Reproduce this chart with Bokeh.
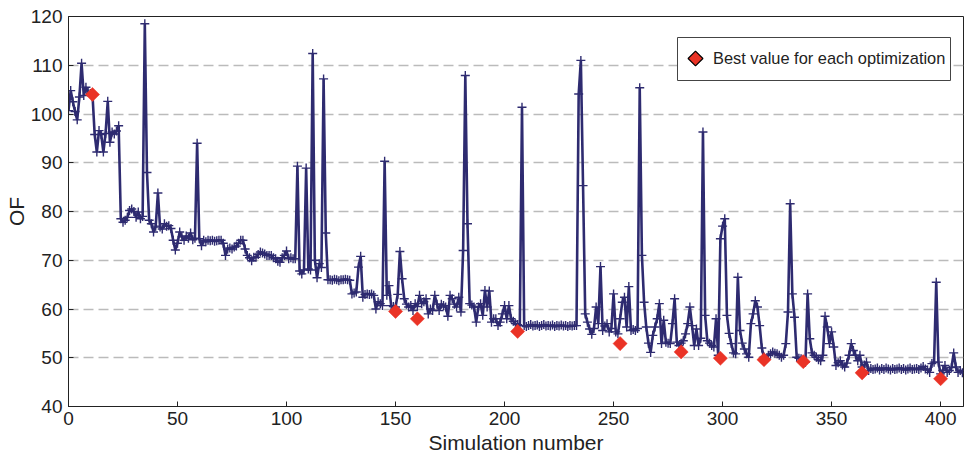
from bokeh.plotting import figure
from bokeh.models import Range1d, FixedTicker, Legend, LegendItem, ColumnDataSource
from bokeh.embed import file_html
from bokeh.resources import INLINE

# ---- data ----
of_values = [
    100.7, 104.8, 102.5, 100.5, 98.8, 103.5, 110.4, 103.8, 105.5, 104.5,
    104.2, 104.0, 95.8, 92.2, 96.6, 95.8, 92.2, 96.0, 102.6, 94.2,
    96.3, 95.9, 96.5, 97.6, 78.5, 77.8, 78.2, 78.8, 80.2, 80.5,
    80.0, 78.8, 79.9, 78.5, 79.0, 118.5, 88.0, 78.2, 77.5, 75.8,
    77.0, 83.8, 76.8, 76.4, 77.5, 77.0, 77.1, 76.5, 74.1, 72.1,
    73.5, 75.8, 74.8, 74.1, 75.0, 74.5, 75.6, 74.2, 74.5, 94.0,
    74.4, 73.0, 74.1, 73.8, 74.1, 74.0, 74.1, 73.9, 74.0, 74.1,
    74.1, 73.5, 71.0, 72.3, 72.5, 72.3, 72.7, 72.9, 73.5, 74.1,
    74.1, 72.3, 71.0, 70.5, 69.9, 70.6, 70.6, 71.2, 71.7, 71.5,
    71.3, 71.0, 71.0, 71.0, 70.5, 70.3, 69.8, 69.6, 70.5, 71.0,
    71.9, 70.3, 70.5, 70.3, 70.3, 89.3, 67.8, 67.2, 68.0, 88.9,
    68.2, 68.0, 112.4, 70.0, 66.4, 69.3, 68.5, 107.2, 75.6, 66.0,
    66.0, 65.9, 66.1, 66.0, 65.8, 66.0, 66.0, 66.1, 66.0, 65.9,
    63.1, 63.3, 63.5, 68.6, 70.8, 62.4, 63.0, 63.1, 63.0, 63.1,
    62.8, 60.0, 61.5, 61.1, 60.7, 90.3, 62.8, 64.8, 60.7, 60.5,
    60.4, 63.0, 71.8, 66.2, 62.1, 61.0, 60.4, 60.7, 59.7, 61.1,
    60.5, 62.8, 61.1, 61.5, 62.1, 59.0, 60.0, 59.7, 62.8, 61.0,
    59.7, 61.0, 60.7, 60.4, 58.5, 62.8, 62.1, 61.0, 60.4, 62.4,
    59.4, 72.0, 107.9, 77.5, 61.1, 60.8, 60.4, 57.3, 60.4, 61.1,
    58.7, 63.8, 60.4, 63.7, 57.3, 58.0, 58.0, 56.6, 57.3, 59.0,
    60.7, 58.0, 60.7, 58.0, 57.5, 57.0, 56.8, 56.6, 101.4, 56.6,
    56.4, 56.6, 56.8, 56.5, 56.6, 56.7, 56.4, 56.6, 56.8, 56.5,
    56.6, 56.5, 56.7, 56.4, 56.6, 56.5, 56.7, 56.5, 56.6, 56.4,
    56.6, 56.5, 56.6, 56.6, 104.1, 111.0, 85.3, 59.0, 57.3, 55.9,
    54.8, 56.0, 60.4, 57.0, 68.7, 55.6, 56.5, 57.0, 55.3, 56.0,
    63.1, 55.3, 54.9, 58.0, 61.4, 62.4, 56.3, 64.6, 55.6, 55.8,
    55.6, 56.0, 105.4, 71.0, 61.4, 56.3, 53.0, 51.1, 54.6, 56.3,
    58.0, 61.1, 52.9, 57.7, 53.2, 53.0, 52.9, 57.0, 62.1, 53.2,
    52.5, 53.0, 53.5, 54.9, 57.0, 60.4, 56.6, 52.5, 55.9, 52.5,
    54.0, 96.3, 58.7, 53.5, 53.0, 52.5, 52.2, 58.0, 50.5, 74.4,
    77.0, 78.5, 58.7, 55.0, 52.9, 51.0, 50.8, 66.5, 55.6, 53.0,
    51.8, 50.8, 50.1, 57.0, 59.0, 61.7, 60.4, 56.6, 52.0, 50.1,
    49.8, 50.5, 50.8, 51.2, 50.9, 50.8, 50.5, 50.1, 50.5, 52.9,
    59.4, 81.6, 63.1, 58.3, 50.1, 49.9, 49.8, 49.5, 49.1, 63.1,
    53.9, 51.0, 50.5, 50.1, 49.6, 49.4, 50.5, 58.5, 56.3, 52.9,
    55.3, 52.2, 48.4, 49.0, 49.4, 48.5, 48.1, 48.9, 50.5, 52.9,
    51.5, 50.5, 49.4, 50.5, 48.1, 48.5, 49.1, 47.4, 47.8, 47.6,
    47.7, 47.9, 47.5, 47.8, 47.6, 47.9, 47.7, 47.5, 47.8, 47.6,
    47.7, 47.9, 47.6, 47.8, 47.5, 47.7, 47.9, 47.6, 47.7, 47.8,
    47.6, 47.9, 48.2, 47.7, 47.5, 47.0, 48.8, 49.1, 65.5, 49.1,
    46.7, 47.4, 48.4, 47.0, 47.4, 48.0, 51.0, 48.1, 47.0, 47.4,
    46.9,
]
simulations = list(range(len(of_values)))

best_sim = [11, 150, 160, 206, 253, 281, 299, 319, 337, 364, 400]
best_val = [104.0, 59.5, 58.0, 55.4, 52.9, 51.2, 49.9, 49.6, 49.2, 46.9, 45.7]

x_ticks = [0, 50, 100, 150, 200, 250, 300, 350, 400]
y_ticks = [40, 50, 60, 70, 80, 90, 100, 110, 120]
legend_label = "Best value for each optimization"

LINE = "#2E2B70"
RED = "#EA3326"
FONT = "Liberation Sans"

p = figure(width=967, height=459, output_backend="svg", toolbar_location=None,
           x_range=Range1d(0, 410.5), y_range=Range1d(40, 120),
           min_border_left=68, min_border_right=4, min_border_top=16, min_border_bottom=53)
p.background_fill_color = "white"
p.border_fill_color = "white"
p.outline_line_color = "#222222"
p.outline_line_width = 1

# pixel-space ranges used only to place the legend box and key symbol
p.extra_x_ranges = {"px": Range1d(68, 963)}
p.extra_y_ranges = {"px": Range1d(406, 16)}

src = ColumnDataSource(dict(x=simulations, y=of_values))
p.line("x", "y", source=src, line_color=LINE, line_width=2.6)
p.scatter("x", "y", source=src, marker="cross", size=9, line_color=LINE, line_width=1.4)

bsrc = ColumnDataSource(dict(x=best_sim, y=best_val))
p.scatter("x", "y", source=bsrc, marker="square", angle=0.785398, size=10,
          fill_color=RED, line_color=RED, line_width=0.5)

# legend frame and key drawn as glyphs (so the key can be a rotated square)
box_src = ColumnDataSource(dict(x=[813.5], y=[58.5], w=[273], h=[43]))
p.rect("x", "y", "w", "h", source=box_src, x_range_name="px", y_range_name="px",
       fill_color="white", line_color="#444444", line_width=1)
key_src = ColumnDataSource(dict(x=[695], y=[58]))
key = p.scatter("x", "y", source=key_src, x_range_name="px", y_range_name="px",
                marker="square", angle=0.785398, size=10.5,
                fill_color=RED, line_color="black", line_width=1.2)

# invisible renderer for the legend entry text
lg = p.scatter(x=[-100], y=[0], marker="square", size=10,
               fill_alpha=0, line_alpha=0)
legend = Legend(items=[LegendItem(label=legend_label, renderers=[lg])],
                location=(609, 326))
legend.label_text_font = FONT
legend.label_text_font_size = "16.4px"
legend.label_text_color = "#222222"
legend.border_line_alpha = 0
legend.background_fill_alpha = 0
legend.margin = 0
legend.padding = 6
legend.glyph_width = 26
legend.glyph_height = 31
legend.label_standoff = 4
legend.label_height = 31
p.add_layout(legend)

p.xaxis.ticker = FixedTicker(ticks=x_ticks)
p.yaxis.ticker = FixedTicker(ticks=y_ticks)
p.xaxis.axis_label = "Simulation number"
p.yaxis.axis_label = "OF"
for ax in (p.xaxis, p.yaxis):
    ax.axis_label_text_font = FONT
    ax.axis_label_text_font_size = "21px"
    ax.axis_label_text_font_style = "normal"
    ax.axis_label_text_color = "#222222"
    ax.major_label_text_font = FONT
    ax.major_label_text_font_size = "19px"
    ax.major_label_text_color = "#222222"
    ax.axis_line_color = "#222222"
    ax.major_tick_line_color = "#222222"
    ax.major_tick_in = 5
    ax.major_tick_out = 0
    ax.minor_tick_line_color = None
p.xaxis.major_label_standoff = 5
p.xaxis.axis_label_standoff = 3
p.yaxis.major_label_standoff = 6
p.yaxis.axis_label_standoff = 0

p.xgrid.grid_line_color = None
p.ygrid.grid_line_color = "#BBBBBB"
p.ygrid.grid_line_dash = "10 5"
p.ygrid.grid_line_width = 1.3

open("out.html", "w").write(file_html(p, INLINE))
